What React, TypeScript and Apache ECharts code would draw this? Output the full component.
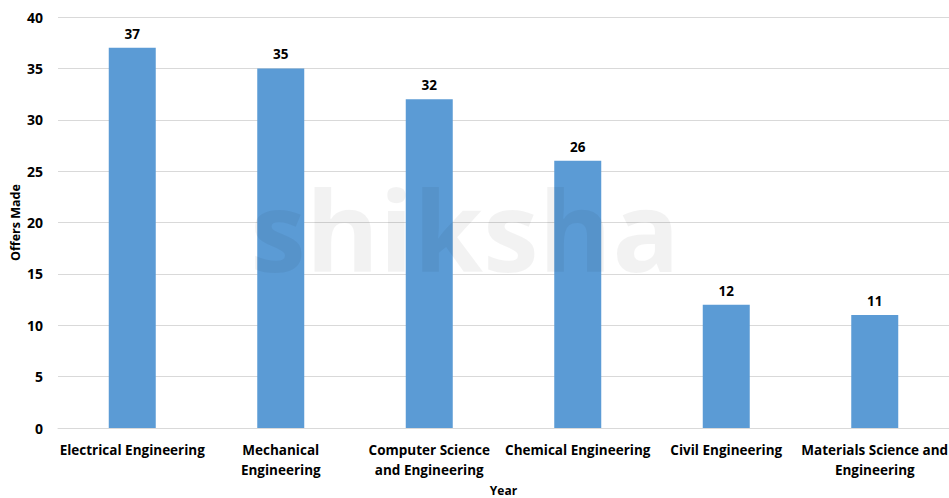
import React, { useEffect, useRef } from "react";
import * as echarts from "echarts";

const categories = [
  "Electrical Engineering",
  "Mechanical\nEngineering",
  "Computer Science\nand Engineering",
  "Chemical Engineering",
  "Civil Engineering",
  "Materials Science and\nEngineering",
];
const offers = [37, 35, 32, 26, 12, 11];
const yMin = 0;
const yMax = 40;
const yStep = 5;

const FONT = "'Open Sans', 'Noto Sans', sans-serif";

export default function App() {
  const ref = useRef<HTMLDivElement>(null);
  useEffect(() => {
    if (!ref.current) return;
    const chart = echarts.init(ref.current, null, { renderer: "svg" });
    chart.setOption({
      animation: false,
      backgroundColor: "#ffffff",
      graphic: [
        {
          type: "text",
          left: 250,
          top: 172,
          z: 100,
          silent: true,
          style: {
            text: "shiksha",
            fontSize: 112,
            lineHeight: 100,
            fontWeight: "bold",
            fontFamily: FONT,
            fill: "rgba(0,0,0,0.05)",
          },
        },
      ],
      grid: {
        left: 58,
        right: 0,
        top: 17,
        bottom: 70,
        containLabel: false,
        outerBoundsMode: "none",
      },
      xAxis: {
        type: "category",
        data: categories,
        name: "Year",
        nameLocation: "middle",
        nameGap: 52,
        nameTextStyle: { fontFamily: FONT, fontWeight: "bold", fontSize: 12, color: "#000" },
        axisLine: { show: true, lineStyle: { color: "#d9d9d9" } },
        axisTick: { show: false },
        axisLabel: {
          interval: 0,
          fontFamily: FONT,
          fontWeight: "bold",
          fontSize: 13.5,
          color: "#000",
          lineHeight: 20,
          margin: 12,
        },
      },
      yAxis: {
        type: "value",
        min: yMin,
        max: yMax,
        interval: yStep,
        name: "Offers Made",
        nameLocation: "middle",
        nameGap: 36,
        nameMoveOverlap: false,
        nameRotate: 90,
        nameTextStyle: { fontFamily: FONT, fontWeight: "bold", fontSize: 12.5, color: "#000" },
        axisLine: { show: false },
        axisTick: { show: false },
        axisLabel: { fontFamily: FONT, fontWeight: "bold", fontSize: 14, color: "#000", margin: 15 },
        splitLine: { lineStyle: { color: "#d9d9d9" } },
      },
      series: [
        {
          type: "bar",
          data: offers,
          barWidth: 47,
          itemStyle: { color: "#5b9bd5" },
          label: {
            show: true,
            position: "top",
            distance: 7,
            fontFamily: FONT,
            fontWeight: "bold",
            fontSize: 13.5,
            color: "#000",
          },
        },
      ],
    });
    return () => chart.dispose();
  }, []);
  return (
    <div
      ref={ref}
      style={{ position: "fixed", left: 0, top: 0, width: 949, height: 498 }}
    />
  );
}
